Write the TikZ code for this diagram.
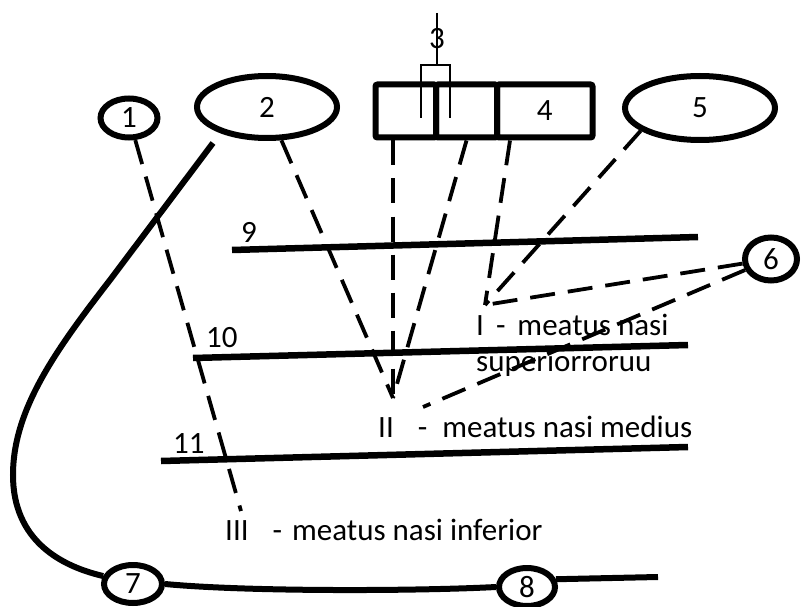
\documentclass[tikz,border=0pt]{standalone}
\usepackage{fontspec}
\setmainfont{Carlito}
\usetikzlibrary{shapes.geometric}

\begin{document}
\begin{tikzpicture}[x=1pt, y=-1pt,
  font=\fontsize{31}{37}\selectfont,
  blob/.style={ellipse, draw, line width=6pt, inner sep=0pt},
  cell/.style={rectangle, draw, line width=6pt, minimum height=53pt, inner sep=0pt, rounded corners=2pt},
  shelf/.style={line width=6.5pt},
  rim/.style={line width=6pt},
  wire/.style={line width=2pt},
  trace/.style={line width=3.8pt, dash pattern=on 25pt off 13pt},
  tag/.style={anchor=base west, inner sep=0pt}]
\useasboundingbox (0,0) rectangle (801,607) ;

% the round parts
\node (e1) at (129,118) [blob, minimum width=57pt, minimum height=39pt] {1} ;
\node (e2) at (267,107) [blob, minimum width=140pt, minimum height=62pt] {2} ;
\node (e5) at (700,108) [blob, minimum width=150pt, minimum height=64pt] {5} ;
\node (e6) at (771,259) [blob, minimum width=52pt, minimum height=43pt] {6} ;
\node (e7) at (133,584) [blob, minimum width=58pt, minimum height=38pt] {7} ;
\node (e8) at (527,587) [blob, minimum width=56pt, minimum height=38pt] {8} ;

% the three cells
\node (boxA) at (405.75,111) [cell, minimum width=60.5pt] {} ;
\node (boxB) at (466.5,111) [cell, minimum width=61pt] {} ;
\node (boxC) at (544.75,111) [cell, minimum width=95.5pt] {4} ;

% bracket of 3
\draw[wire] (437,13) -- (437,65) ;
\draw[wire] (421,118) -- (421,65) -- (450,65) -- (450,118) ;
\node (l3) at (437,39) [inner sep=0pt] {3} ;

% shelves
\draw[shelf] (232,250) -- (698,237) ;
\draw[shelf] (193,358) -- (688,345) ;
\draw[shelf] (161,461) -- (688,447) ;
\node (l9) at (241,242) [tag] {9} ;
\node (l10) at (206,347) [tag] {10} ;
\node (l11) at (173,453) [tag] {11} ;

% meatus texts
\node (tI) at (476,335) [tag] {I\hspace{12pt}-\hspace{12pt}meatus nasi} ;
\node (tSup) at (476,371) [tag] {superiorroruu} ;
\node (tII) at (378,437) [tag] {II\hspace{24pt}-\hspace{15pt}meatus nasi medius} ;
\node (tIII) at (225,540) [tag] {III\hspace{24pt}-\hspace{10pt}meatus nasi inferior} ;

% meeting points
\coordinate (pI) at (485,305) ;
\coordinate (pII) at (393,398) ;
\coordinate (pIIr) at (423,407) ;
\coordinate (pIII) at (241,511) ;
\coordinate (n2) at (213,143) ;
\coordinate (tail) at (658,577) ;

% dashed leads
\draw[trace] (e1) -- (pIII) ;
\draw[trace] (e2) -- (pII) ;
\draw[trace] (boxA.south -| pII) -- (pII) ;
\draw[trace] (boxB.south) -- (pII) ;
\draw[trace] ([xshift=16pt]boxC.south west) -- (pI) ;
\draw[trace] (e5.201) -- (pI) ;
\draw[trace] (e6) -- (pI) ;
\draw[trace] (e6) -- (pIIr) ;

% the outline
\draw[rim] (n2) -- (110,280) .. controls (55,351) and (13,410) .. (13,475) .. controls (13,540) and (60,566) .. (e7.165) ;
\draw[rim] (e7.east) .. controls (250,592) and (420,591) .. (e8.west) ;
\draw[rim] (e8.15) -- (tail) ;
\end{tikzpicture}
\end{document}
